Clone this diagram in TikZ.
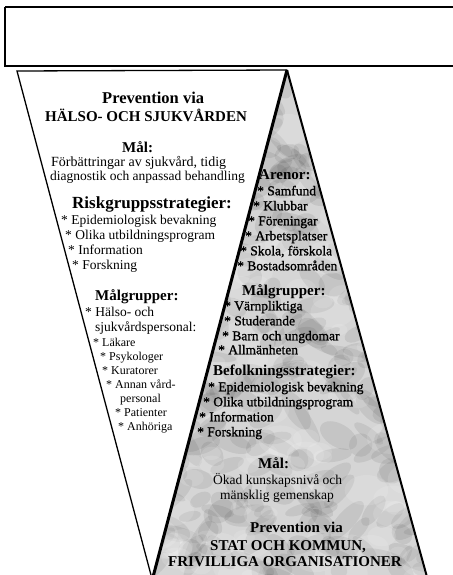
\documentclass[tikz,border=0pt]{standalone}
\usepackage{fontspec}
\setmainfont{Liberation Serif}
\newfontfamily\heavy[FakeBold=1.3]{Liberation Serif}
\begin{document}
\begin{tikzpicture}[x=1pt,y=-1pt,
  tx/.style={anchor=mid west,inner sep=0pt,font=\fontsize{13.5}{15}\selectfont},
  sm/.style={anchor=mid west,inner sep=0pt,font=\fontsize{12}{13}\selectfont},
  hd/.style={anchor=mid west,inner sep=0pt,font=\fontsize{15}{16}\selectfont\bfseries},
  gt/.style={anchor=mid west,inner sep=0pt,font=\fontsize{13.5}{15}\selectfont\heavy},
  gn/.style={anchor=mid west,inner sep=0pt,font=\fontsize{13.5}{15}\selectfont},
  edge/.style={draw=black,line width=1.3pt}]
\useasboundingbox (0,0) rectangle (452,575);
\fill[white] (0,0) rectangle (452,575);
% top box
\draw[line width=1.4pt] (5,7) -- (465,7) (465,66) -- (5,66) -- (5,7);
% gray triangle
\coordinate (ga) at (287,70);
\coordinate (gl) at (153,577);
\coordinate (gr) at (427,577);
\begin{scope}
\clip (ga) -- (gl) -- (gr) -- cycle;
\fill[gray!33] (140,60) rectangle (440,580);
\pgfmathsetseed{11}
\foreach \i in {1,...,340}{
  \pgfmathsetmacro\xx{150+280*rnd}
  \pgfmathsetmacro\yy{70+510*rnd}
  \pgfmathsetmacro\rr{-60+120*rnd}
  \pgfmathsetmacro\aa{8+18*rnd}
  \pgfmathsetmacro\bb{4+8*rnd}
  \fill[black,opacity=0.07,rotate around={\rr:(\xx,\yy)}] (\xx,\yy) ellipse ({\aa} and {\bb});
}
\foreach \i in {1,...,140}{
  \pgfmathsetmacro\xx{150+280*rnd}
  \pgfmathsetmacro\yy{70+510*rnd}
  \pgfmathsetmacro\aa{8+16*rnd}
  \fill[white,opacity=0.13] (\xx,\yy) ellipse ({\aa} and {\aa*0.7});
}
\end{scope}
% white inverted triangle
\coordinate (wl) at (17,71);
\coordinate (wb) at (151,575);
\draw[edge] (wb) -- (wl) -- (ga);
\draw[line width=3pt] (ga) -- (gl);
\draw[line width=2pt] (ga) -- (gr);
% white triangle texts
\node[hd,font=\fontsize{16.5}{18}\selectfont\bfseries] (w1) at (102,101) {Prevention via};
\node[hd] (w2) at (45,119) {HÄLSO- OCH SJUKVÅRDEN};
\node[hd] (w3) at (122,150) {Mål:};
\node[tx,font=\fontsize{14}{15}\selectfont] (w4) at (51,164) {Förbättringar av sjukvård, tidig};
\node[tx] (w5) at (50,178) {diagnostik och anpassad behandling};
\node[hd,font=\fontsize{17}{18}\selectfont\bfseries] (w6) at (72,206) {Riskgruppsstrategier:};
\node[tx] (w7) at (61,222) {* Epidemiologisk bevakning};
\node[tx] (w8) at (65,237) {* Olika utbildningsprogram};
\node[tx] (w9) at (68,252) {* Information};
\node[tx] (w10) at (72,267) {* Forskning};
\node[hd] (w11) at (95,298) {Målgrupper:};
\node[tx] (w12) at (85,314) {* Hälso- och};
\node[tx] (w13) at (95,329) {sjukvårdspersonal:};
\node[sm] (w14) at (93,344) {* Läkare};
\node[sm] (w15) at (100,358) {* Psykologer};
\node[sm] (w16) at (102,372) {* Kuratorer};
\node[sm] (w17) at (106,386) {* Annan vård-};
\node[sm] (w18) at (120,400) {personal};
\node[sm] (w19) at (115,414) {* Patienter};
\node[sm] (w20) at (118,428) {* Anhöriga};
% gray triangle texts
\node[hd] (g1) at (259,177) {Arenor:};
\node[gt] (g2) at (257,193) {* Samfund};
\node[gt] (g3) at (253,208) {* Klubbar};
\node[gt] (g4) at (248,223) {* Föreningar};
\node[gt] (g5) at (245,238) {* Arbetsplatser};
\node[gt] (g6) at (240,253) {* Skola, förskola};
\node[gt] (g7) at (237,268) {* Bostadsområden};
\node[hd] (g8) at (242,293) {Målgrupper:};
\node[gt] (g9) at (224,308) {* Värnpliktiga};
\node[gt] (g10) at (224,323) {* Studerande};
\node[gt] (g11) at (222,338) {* Barn och ungdomar};
\node[gt] (g12) at (218,352) {* Allmänheten};
\node[hd] (g13) at (213,373) {Befolkningsstrategier:};
\node[gt] (g14) at (208,389) {* Epidemiologisk bevakning};
\node[gt] (g15) at (203,404) {* Olika utbildningsprogram};
\node[gt] (g16) at (199,419) {* Information};
\node[gt] (g17) at (197,434) {* Forskning};
\node[hd] (g18) at (258,466) {Mål:};
\node[gn] (g19) at (213,482) {Ökad kunskapsnivå och};
\node[gn] (g20) at (220,497) {mänsklig gemenskap};
\node[hd] (g21) at (250,530) {Prevention via};
\node[hd] (g22) at (210,548) {STAT OCH KOMMUN,};
\node[hd] (g23) at (168,564) {FRIVILLIGA ORGANISATIONER};
\end{tikzpicture}
\end{document}
